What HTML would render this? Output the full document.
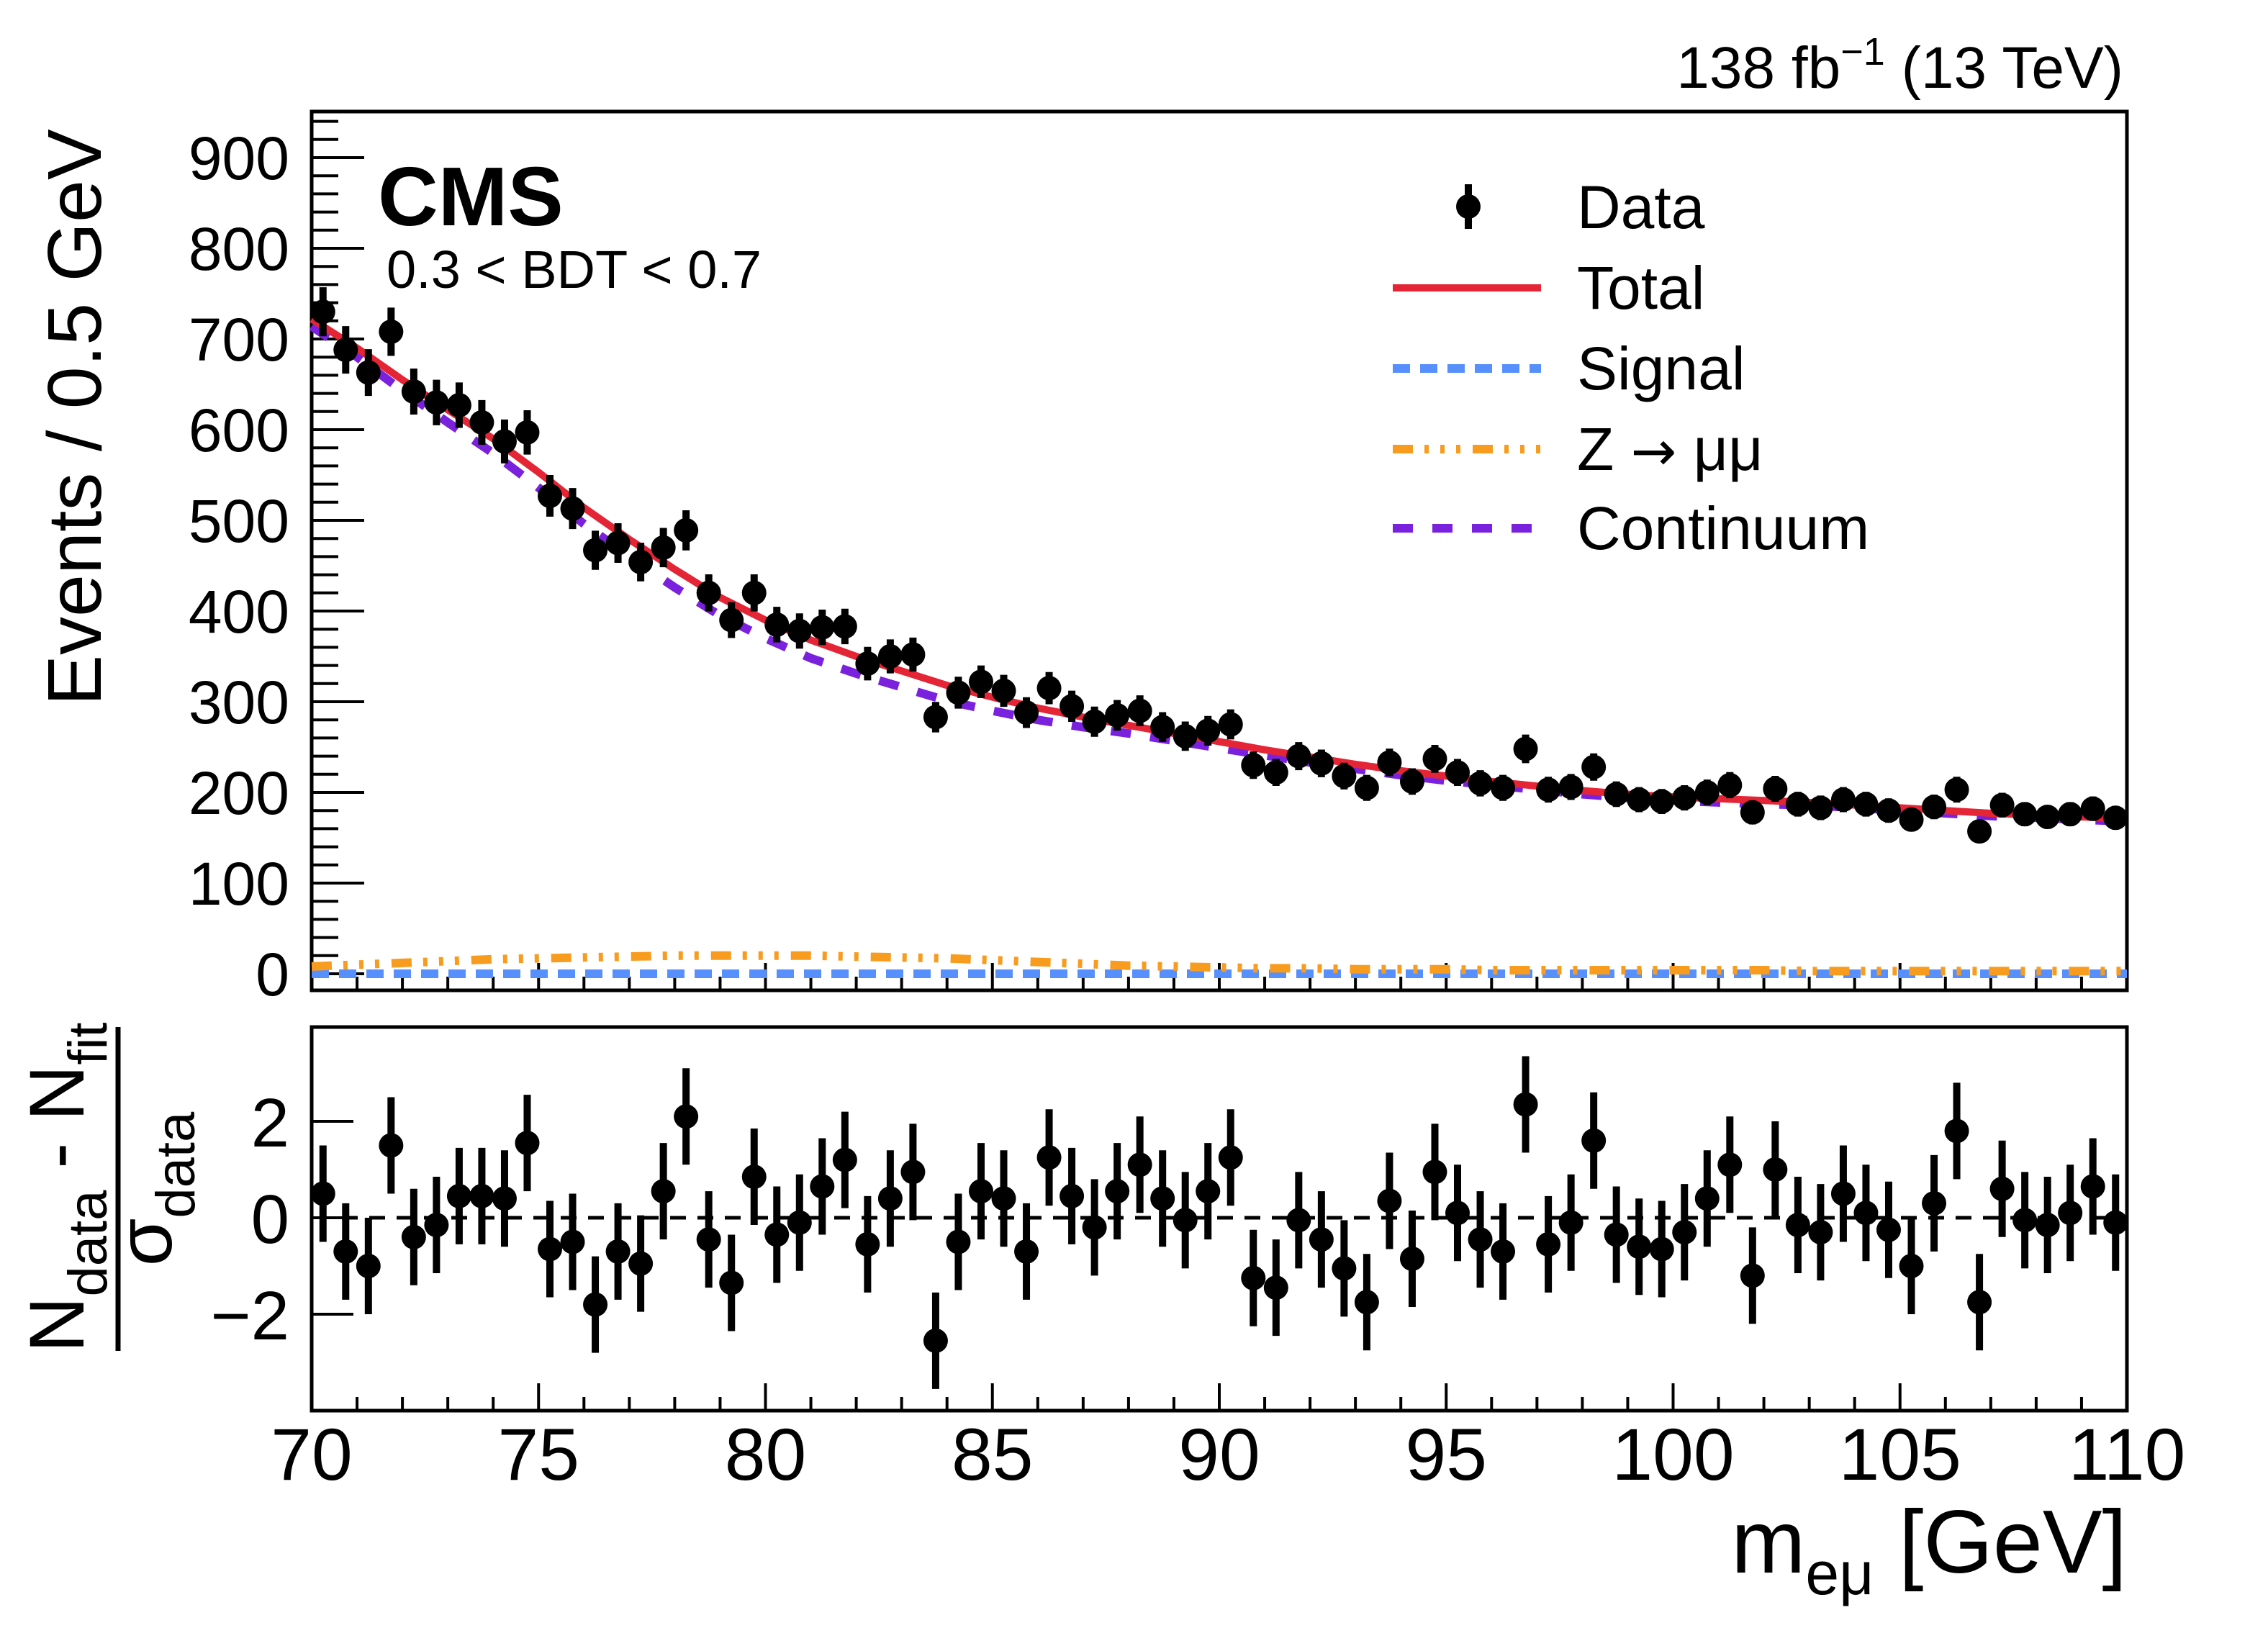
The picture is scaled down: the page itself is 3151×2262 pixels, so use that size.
<!DOCTYPE html>
<html><head><meta charset="utf-8"><style>
html,body{margin:0;padding:0;background:#fff;}
svg{display:block;font-family:"Liberation Sans",sans-serif;}
</style></head><body>
<svg id="chart" width="3151" height="2262" viewBox="0 0 3151 2262" xmlns="http://www.w3.org/2000/svg">
<rect width="3151" height="2262" fill="#fff"/>
<g id="topPanel"></g><g id="botPanel"></g>
</svg>
<script>
const binCenters=[];for(let i=0;i<80;i++)binCenters.push(70.25+0.5*i);
const dataCounts=[730,688,663,708,642,630,627,608,587,597,527,513,467,475,454,470,489,420,390,420,385,378,382,383,342,350,352,283,310,322,312,288,315,295,278,285,290,272,262,268,275,230,222,240,232,218,205,233,212,237,222,210,205,248,203,206,228,198,192,190,194,200,208,178,204,187,183,192,187,180,170,184,203,157,186,176,173,176,182,172];
const pulls=[0.5,-0.7,-1.0,1.5,-0.4,-0.15,0.45,0.45,0.4,1.55,-0.65,-0.5,-1.8,-0.7,-0.95,0.55,2.1,-0.45,-1.35,0.85,-0.35,-0.1,0.65,1.2,-0.55,0.4,0.95,-2.55,-0.5,0.55,0.4,-0.7,1.25,0.45,-0.2,0.55,1.1,0.4,-0.05,0.55,1.25,-1.25,-1.45,-0.05,-0.45,-1.05,-1.75,0.35,-0.85,0.95,0.1,-0.45,-0.7,2.35,-0.55,-0.1,1.6,-0.35,-0.6,-0.65,-0.3,0.4,1.1,-1.2,1.0,-0.15,-0.3,0.5,0.1,-0.25,-1.0,0.3,1.8,-1.75,0.6,-0.05,-0.15,0.1,0.65,-0.1];
const curveX=[70,71,72,73,74,75,76,77,78,79,80,81,82,83,84,85,86,87,88,89,90,91,92,93,94,95,96,97,98,99,100,101,102,103,104,105,106,107,108,109,110];
const totalFit=[722,690,655,622,590,553,514,479,446,415,390,368,350,334,318,305,293,283,274,265,256,247,239,231,224,218,212,207,202,198,195,193,191,189,186,183,180,177,175,173,171];
const zmmFit=[8,10,12,14,16,17,18,19,20,20,20,20,19,18,17,15,13,11,9,8,7,6,6,5,5,5,4,4,4,4,4,4,4,3,3,3,3,3,3,3,3];
const signalFit=[0,0,0,0,0,0,0,0,0,0,0,0,0,0,0,0,0,0,0,0,0,0,0,0,0,0,0,0,0,0,0,0,0,0,0,0,0,0,0,0,0];
const yTicksTop=[0,100,200,300,400,500,600,700,800,900];
const yTicksBot=[-2,0,2];
const xTicks=[70,75,80,85,90,95,100,105,110];

const NS="http://www.w3.org/2000/svg";
const L=433,R=2955,T1=155,B1=1376,T2=1427,B2=1960;
const X=v=>L+(v-70)*(R-L)/40;
const Y1=v=>1353-v*1.26;
const Y2=v=>1692-v*67;
const ZDASH='28,16,6,16,6,16,6,17';
function mk(tag,attrs,parent,text){const e=document.createElementNS(NS,tag);for(const k in attrs)e.setAttribute(k,attrs[k]);if(text!==undefined)e.textContent=text;parent.appendChild(e);return e;}
const topG=document.getElementById('topPanel'),botG=document.getElementById('botPanel');

let f1=mk('rect',{x:L,y:T1,width:R-L,height:B1-T1,fill:'none',stroke:'#000','stroke-width':5},topG);


let f2=mk('rect',{x:L,y:T2,width:R-L,height:B2-T2,fill:'none',stroke:'#000','stroke-width':5},botG);



for(let v=70;v<=110;v++){const big=v%5===0;const len=big?38:19;
 [[B1,-1,topG],[B2,-1,botG]].forEach(([y0,d,p])=>{
  const t=mk('line',{x1:X(v),x2:X(v),y1:y0,y2:y0+d*len,stroke:'#000','stroke-width':4},p);
  
  });}
xTicks.forEach(v=>{const t=mk('text',{x:X(v),y:2056,'font-size':102,'text-anchor':'middle'},botG,String(v));
 
 });
for(let v=0;v<=940;v+=20){const big=v%100===0;const len=big?73:37;const y=Y1(v);if(y<T1+3)continue;
 const t=mk('line',{x1:L,x2:L+len,y1:y,y2:y,stroke:'#000','stroke-width':4},topG);
 
 }
yTicksTop.forEach(v=>{const t=mk('text',{x:402,y:Y1(v)+30,'font-size':84,'text-anchor':'end'},topG,String(v));
 
 });
yTicksBot.forEach(v=>{const tk=mk('line',{x1:L,x2:L+58,y1:Y2(v),y2:Y2(v),stroke:'#000','stroke-width':4},botG);
 
 
 const t=mk('text',{x:402,y:Y2(v)+35,'font-size':96,'text-anchor':'end'},botG,v<0?'\u2212'+Math.abs(v):String(v));
 
 });

function path(vals,fy){return curveX.map((x,i)=>(i?'L':'M')+X(x).toFixed(1)+','+fy(vals[i]).toFixed(1)).join(' ');}
const cont=totalFit.map((v,i)=>v-zmmFit[i]-signalFit[i]);
let c=mk('path',{d:path(signalFit,Y1),fill:'none',stroke:'#5790fc','stroke-width':12,'stroke-dasharray':'24,14'},topG);


c=mk('path',{d:path(zmmFit,Y1),fill:'none',stroke:'#f89c20','stroke-width':12,'stroke-dasharray':ZDASH},topG);


c=mk('path',{d:path(cont,Y1),fill:'none',stroke:'#7a21dd','stroke-width':12,'stroke-dasharray':'28,27'},topG);


c=mk('path',{d:path(totalFit,Y1),fill:'none',stroke:'#e42536','stroke-width':10},topG);



c=mk('line',{x1:475,x2:R,y1:Y2(0),y2:Y2(0),stroke:'#000','stroke-width':5,'stroke-dasharray':'22,16'},botG);



binCenters.forEach((x,i)=>{const n=dataCounts[i],e=Math.sqrt(n);
 const g=mk('g',{},topG);
 
 
 mk('line',{x1:X(x),x2:X(x),y1:Y1(n+e),y2:Y1(n-e),stroke:'#000','stroke-width':10},g);
 mk('circle',{cx:X(x),cy:Y1(n),r:17,fill:'#000'},g);
 const p=pulls[i];
 const g2=mk('g',{},botG);
 
 
 mk('line',{x1:X(x),x2:X(x),y1:Y2(p+1),y2:Y2(p-1),stroke:'#000','stroke-width':10},g2);
 mk('circle',{cx:X(x),cy:Y2(p),r:17,fill:'#000'},g2);
});
</script>
<svg style="position:absolute;left:0;top:0" width="3151" height="2262" xmlns="http://www.w3.org/2000/svg" font-family="Liberation Sans, sans-serif">
<text x="2950" y="122" font-size="82" text-anchor="end">138 fb<tspan dy="-32" font-size="54">−1</tspan><tspan dy="32"> (13 TeV)</tspan></text>
<text x="525" y="313" font-size="116" font-weight="bold">CMS</text>
<text x="537" y="400" font-size="74">0.3 &lt; BDT &lt; 0.7</text>
<text transform="translate(140,580) rotate(-90)" font-size="106" text-anchor="middle">Events / 0.5 GeV</text>
<g>
<g><line x1="2040" x2="2040" y1="256" y2="318" stroke="#000" stroke-width="10"/><circle cx="2040" cy="287" r="17" fill="#000"/><text x="2191" y="317" font-size="84">Data</text></g>
<g><line x1="1935" x2="2141" y1="400" y2="400" stroke="#e42536" stroke-width="10"/><text x="2191" y="429" font-size="84">Total</text></g>
<g><line x1="1935" x2="2141" y1="512" y2="512" stroke="#5790fc" stroke-width="12" stroke-dasharray="24,14"/><text x="2191" y="541" font-size="84">Signal</text></g>
<g><line x1="1935" x2="2141" y1="624" y2="624" stroke="#f89c20" stroke-width="12" stroke-dasharray="28,16,6,16,6,16,6,17"/><text x="2191" y="653" font-size="84">Z <tspan font-family="DejaVu Sans, sans-serif" font-size="76">→</tspan> μμ</text></g>
<g><line x1="1935" x2="2141" y1="734" y2="734" stroke="#7a21dd" stroke-width="12" stroke-dasharray="28,27"/><text x="2191" y="763" font-size="84">Continuum</text></g>
</g>
<text x="2955" y="2185" font-size="124" text-anchor="end">m<tspan dy="30" font-size="84">eμ</tspan><tspan dy="-30"> [GeV]</tspan></text>
<g>
<text transform="translate(116,1650) rotate(-90)" font-size="108" text-anchor="middle">N<tspan dy="32" font-size="76">data</tspan><tspan dy="-32"> - N</tspan><tspan dy="32" font-size="76">fit</tspan></text>
<line x1="164" x2="164" y1="1427" y2="1877" stroke="#000" stroke-width="7"/>
<text transform="translate(238,1652) rotate(-90)" font-size="108" text-anchor="middle">σ<tspan dy="32" font-size="76">data</tspan></text>
</g>
</svg>
</body></html>
